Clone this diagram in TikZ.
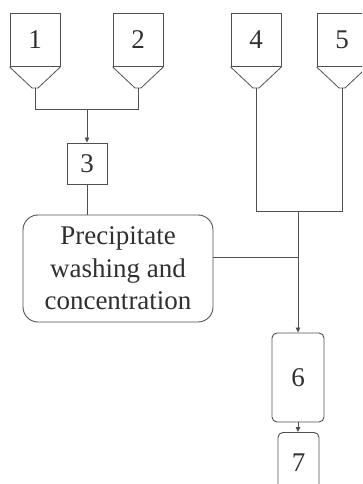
\documentclass[tikz,border=0pt]{standalone}
\usepackage{fontspec}
\setmainfont{Liberation Serif}
\usetikzlibrary{arrows.meta}
\definecolor{ln}{HTML}{505050}
\definecolor{tx}{HTML}{303030}
\begin{document}
\begin{tikzpicture}[x=1pt,y=-1pt,
  every node/.style={text=tx,font=\fontsize{27}{32.5}\selectfont},
  hopper/.style={draw=ln,line width=0.9pt,minimum width=50pt,minimum height=53pt,inner sep=0pt,anchor=north},
  sqbox/.style={draw=ln,line width=0.9pt,inner sep=0pt},
  rbox/.style={draw=ln,line width=0.9pt,rounded corners=5pt,inner sep=0pt},
  ln/.style={draw=ln,line width=0.8pt},
  arr/.style={ln,-{Triangle[length=5pt,width=4.5pt]}}]
\clip (0,0) rectangle (362,484);
\fill[white] (0,0) rectangle (362,484);
% hoppers
\foreach \n/\x in {1/35,2/138,4/256,5/342}{
  \node[hopper] (h\n) at (\x,13) {\n};
  \draw[ln] (h\n.south west) -- (\x-3,88) -- (\x+3,88) -- (h\n.south east);
  \coordinate (o\n) at (\x,88);
}
\node[sqbox,minimum width=40pt,minimum height=41pt] (b3) at (87,163.5) {3};
\node[draw=ln,line width=0.9pt,rounded corners=15pt,minimum width=190pt,minimum height=107pt,inner sep=0pt,align=center] (wash) at (118,268.5) {Precipitate\\washing and\\concentration};
\node[rbox,minimum width=52pt,minimum height=89pt] (b6) at (298,377.5) {6};
\node[rbox,minimum width=41pt,minimum height=60pt,anchor=north] (b7) at (298.5,432) {\raisebox{-2pt}{7}};
\coordinate (j12) at (87,109);
\coordinate (j45) at (298,211);
\coordinate (jw) at (298,257);
% connectors
\draw[ln] (o1) -- (o1 |- j12) -- (o2 |- j12) -- (o2);
\draw[arr] (j12) -- (b3.north);
\draw[ln] (b3.south) -- (b3.south |- wash.north);
\draw[ln] (o4) -- (o4 |- j45) -- (o5 |- j45) -- (o5);
\draw[arr] (j45) -- (b6.north);
\draw[ln] (wash.east |- jw) -- (jw);
\draw[arr] (b6.south) -- (b6.south |- b7.north);
\end{tikzpicture}
\end{document}
